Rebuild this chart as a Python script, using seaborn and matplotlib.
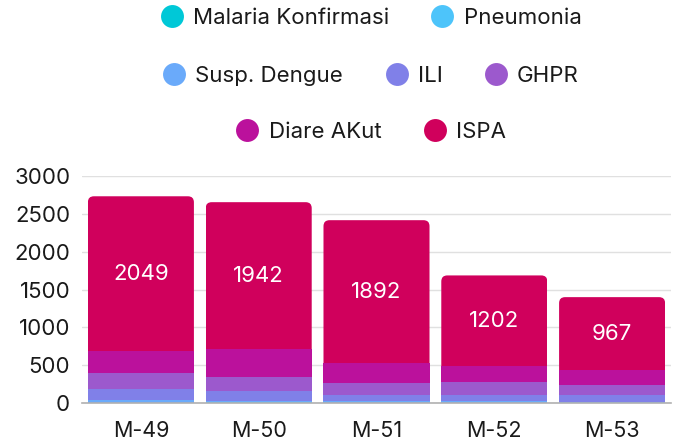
import matplotlib
matplotlib.use("Agg")
import matplotlib.pyplot as plt
import seaborn as sns
import pandas as pd
import numpy as np
from matplotlib.lines import Line2D
from matplotlib.patches import FancyBboxPatch

# Data
weeks = ['M-49', 'M-50', 'M-51', 'M-52', 'M-53']
malaria = [0, 0, 0, 0, 0]
pneumonia = [3, 8, 3, 2, 2]
dengue = [33, 12, 24, 20, 12]
ili = [148, 132, 79, 79, 92]
ghpr = [212, 198, 158, 172, 128]
diare = [287, 362, 260, 211, 198]
ispa = [2049, 1942, 1892, 1202, 967]

series_names = ['Malaria Konfirmasi', 'Pneumonia', 'Susp. Dengue', 'ILI',
                'GHPR', 'Diare AKut', 'ISPA']
series_values = [malaria, pneumonia, dengue, ili, ghpr, diare, ispa]
series_colors = ['#00C8D7', '#4DC4FA', '#6AAAFA', '#8080E8',
                 '#9C59CD', '#BB119C', '#D0005C']

sns.set_theme(style='white')
plt.rcParams['font.family'] = ['Inter', 'DejaVu Sans']

df = pd.DataFrame(dict(zip(series_names, series_values)), index=weeks)
cum = df.cumsum(axis=1)

fig = plt.figure(figsize=(6.73, 4.46), dpi=100)
ax = fig.add_axes([82 / 673, 1 - 403 / 446, (671 - 82) / 673, (403 - 176) / 446])

# stacked bars: draw cumulative totals from the top series down
for name, color in zip(reversed(series_names), reversed(series_colors)):
    plot_df = pd.DataFrame({'week': weeks, 'value': cum[name].values})
    sns.barplot(data=plot_df, x='week', y='value', color=color, saturation=1,
                width=0.9, linewidth=0, ax=ax)

ax.set_ylim(0, 3000)
ax.set_xlim(-0.5, 4.5)
ax.set_yticks(range(0, 3001, 500))
ax.set_xlabel('')
ax.set_ylabel('')

# round the top corners of the stacks
px_x = ax.bbox.width / 5
px_y = ax.bbox.height / 3000
radius = 6 / px_x
aspect = px_x / px_y
for bar in ax.containers[0]:
    x, w, h = bar.get_x(), bar.get_width(), bar.get_height()
    clip = FancyBboxPatch((x, -500), w, h + 500,
                          boxstyle=f"round,pad=0,rounding_size={radius}",
                          mutation_aspect=aspect, transform=ax.transData)
    bar.set_clip_path(clip)

# ISPA value labels
below = cum['Diare AKut'].values
for i, v in enumerate(ispa):
    ax.text(i, below[i] + v / 2, f'{v}', ha='center', va='center',
            color='white', fontsize=16)

ax.yaxis.grid(True, color='#e0e0e0', linewidth=1)
ax.set_axisbelow(True)
for side in ['left', 'top', 'right']:
    ax.spines[side].set_visible(False)
ax.spines['bottom'].set_color('#b0b0b0')
ax.spines['bottom'].set_linewidth(1.2)
ax.tick_params(axis='both', length=0, colors='#1a1a1a')
ax.tick_params(axis='y', pad=8.5, labelsize=16)
ax.tick_params(axis='x', pad=13, labelsize=15.5)

# legend in three centred rows
rows = [[0, 1], [2, 3, 4], [5, 6]]
row_y = [18, 76, 132]
for idx, y in zip(rows, row_y):
    handles = [Line2D([], [], linestyle='none', marker='o', markersize=16.5,
                      markerfacecolor=series_colors[k], markeredgewidth=0)
               for k in idx]
    labels = [series_names[k] for k in idx]
    leg = fig.legend(handles, labels, loc='center', ncol=len(idx),
                     bbox_to_anchor=(371 / 673, 1 - y / 446), frameon=False,
                     fontsize=16, handlelength=1.0, handletextpad=0.45,
                     columnspacing=1.9, borderpad=0)
    for t in leg.get_texts():
        t.set_color('#1a1a1a')

fig.savefig('out.png', dpi=100)
